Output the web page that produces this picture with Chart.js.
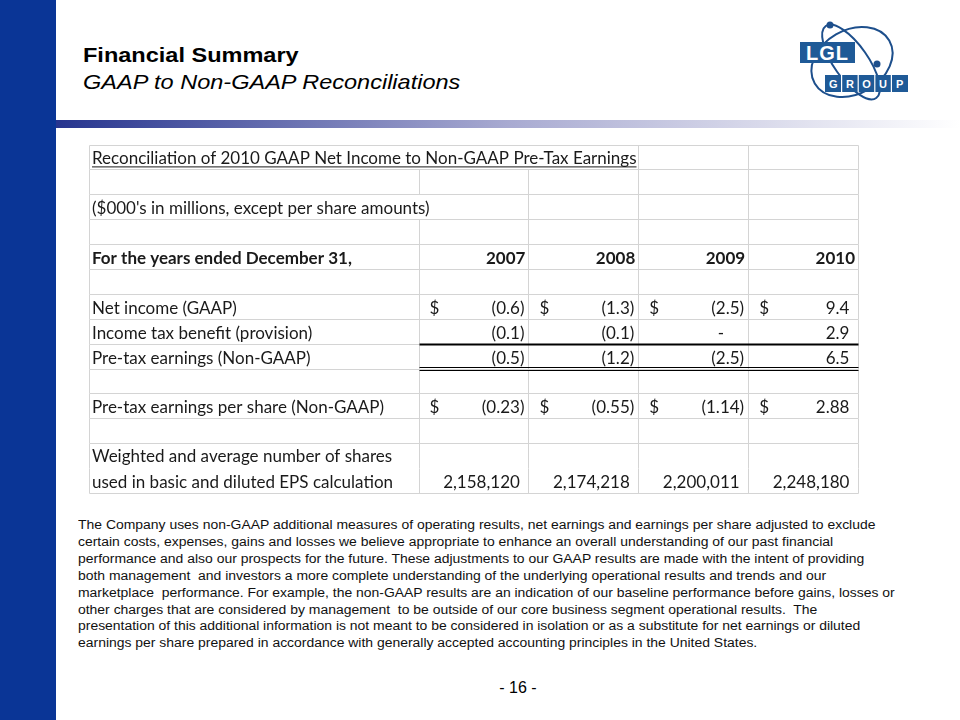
<!DOCTYPE html>
<html>
<head>
<meta charset="utf-8">
<script src="https://cdn.jsdelivr.net/npm/chart.js@4.4.0/dist/chart.umd.min.js"></script>
<style>
  body { margin:0; width:960px; height:720px; position:relative; background:#fff; overflow:hidden;
         font-family:"Liberation Sans", Arial, sans-serif; color:#000; }
  #sidebar { position:absolute; left:0; top:0; width:56px; height:720px; background:#0a3596; }
  #rule { position:absolute; left:56px; top:120px; width:904px; height:8px;
          background:linear-gradient(to right, #27358f 0%, #a8aad1 50%, #ffffff 100%); }
  .head { position:absolute; left:83px; font-size:21px; white-space:nowrap; transform:scaleX(1.12); transform-origin:left top; }
  #t1 { top:43px; font-weight:bold; }
  #t2 { top:70px; font-style:italic; }
  #logo { position:absolute; left:780px; top:14px; }
  #note { position:absolute; left:78px; top:517px; font-size:12.3px; line-height:16.9px; white-space:nowrap; color:#111;
          transform:scaleX(1.133); transform-origin:left top; }
  #page { position:absolute; left:0; width:1036px; text-align:center; top:679px; font-size:16px; }
  #tbl { position:absolute; left:80px; top:136px; }
</style>
</head>
<body>
<div id="sidebar"></div>
<div id="rule"></div>
<div class="head" id="t1">Financial Summary</div>
<div class="head" id="t2">GAAP to Non-GAAP Reconciliations</div>

<svg id="logo" width="140" height="100" viewBox="780 14 140 100">
  <g fill="none" stroke="#1d4f8c" stroke-width="2">
    <ellipse cx="852" cy="62" rx="43" ry="32" transform="rotate(-30 852 62)"/>
    <ellipse cx="851" cy="62" rx="44" ry="17" transform="rotate(55 851 62)"/>
  </g>
  <circle cx="830" cy="25" r="3.5" fill="#1d4f8c"/>
  <circle cx="877" cy="64" r="3.5" fill="#1d4f8c"/>
  <rect x="800" y="42" width="55" height="21" fill="#1f5a97"/>
  <text x="827.5" y="60" fill="#fff" font-family="Liberation Sans, Arial" font-weight="bold" font-size="20" text-anchor="middle" letter-spacing="1">LGL</text>
  <rect x="825" y="75" width="83" height="17" fill="#1f5a97"/>
  <g stroke="#fff" stroke-width="1.2">
    <line x1="841.6" y1="75" x2="841.6" y2="92"/><line x1="858.2" y1="75" x2="858.2" y2="92"/>
    <line x1="874.8" y1="75" x2="874.8" y2="92"/><line x1="891.4" y1="75" x2="891.4" y2="92"/>
  </g>
  <g fill="#fff" font-family="Liberation Sans, Arial" font-weight="bold" font-size="11" text-anchor="middle">
    <text x="833.3" y="87.5">G</text><text x="849.9" y="87.5">R</text><text x="866.5" y="87.5">O</text>
    <text x="883.1" y="87.5">U</text><text x="899.7" y="87.5">P</text>
  </g>
</svg>

<canvas id="tbl" width="800" height="370"></canvas>

<div id="note">The Company uses non-GAAP additional measures of operating results, net earnings and earnings per share adjusted to exclude<br>certain costs, expenses, gains and losses we believe appropriate to enhance an overall understanding of our past financial<br>performance and also our prospects for the future. These adjustments to our GAAP results are made with the intent of providing<br>both management&nbsp; and investors a more complete understanding of the underlying operational results and trends and our<br>marketplace&nbsp; performance. For example, the non-GAAP results are an indication of our baseline performance before gains, losses or<br>other charges that are considered by management&nbsp; to be outside of our core business segment operational results.&nbsp; The<br>presentation of this additional information is not meant to be considered in isolation or as a substitute for net earnings or diluted<br>earnings per share prepared in accordance with generally accepted accounting principles in the United States.</div>
<div id="page">- 16 -</div>

<script>
// table data
var tableTitle = 'Reconciliation of 2010 GAAP Net Income to Non-GAAP Pre-Tax Earnings';
var unitsNote = "($000's in millions, except per share amounts)";
var headerLabel = 'For the years ended December 31,';
var years = ['2007', '2008', '2009', '2010'];
var netIncome = [-0.6, -1.3, -2.5, 9.4];
var taxBenefit = [-0.1, -0.1, 0, 2.9];
var preTaxEarnings = [-0.5, -1.2, -2.5, 6.5];
var preTaxEps = [-0.23, -0.55, -1.14, 2.88];
var avgShares = [2158120, 2174218, 2200011, 2248180];
var sharesLabel = ['Weighted and average number of shares', 'used in basic and diluted EPS calculation'];

// x units: label column is 0..3, then one unit per year; y units: one per sheet row
var colEdges = [0, 3, 4, 5, 6, 7];
var FONT = '"Lato", "Liberation Sans", sans-serif';
var SIZE = 17;

function fmt(v, dec) {
  if (v === 0) return '-';
  var s = Math.abs(v).toFixed(dec);
  return v < 0 ? '(' + s + ')' : s;
}

var tablePlugin = {
  id: 'sheet',
  afterDraw: function(chart) {
    var ctx = chart.ctx;
    var xs = chart.scales.x, ys = chart.scales.y;
    var X = function(v) { return Math.round(xs.getPixelForValue(v)) + 0.5; };
    var Y = function(v) { return Math.round(ys.getPixelForValue(v)) + 0.5; };
    var left = X(0), right = X(7);

    ctx.save();
    // horizontal grid
    ctx.strokeStyle = '#d4d4d4';
    ctx.lineWidth = 1;
    for (var r = 0; r <= 14; r++) {
      if (r === 13) continue;
      ctx.beginPath(); ctx.moveTo(left, Y(r)); ctx.lineTo(right, Y(r)); ctx.stroke();
    }
    // vertical grid, skipping cells that text runs over
    for (var r = 0; r < 14; r++) {
      for (var c = 0; c < colEdges.length; c++) {
        var e = colEdges[c];
        if (r === 0 && (e === 3 || e === 4)) continue;
        if (r === 2 && e === 3) continue;
        ctx.beginPath(); ctx.moveTo(X(e), Y(r)); ctx.lineTo(X(e), Y(r + 1)); ctx.stroke();
      }
    }
    // accounting rules under tax row and pre-tax row
    ctx.strokeStyle = '#000';
    ctx.lineWidth = 2;
    ctx.beginPath(); ctx.moveTo(X(3), Y(8)); ctx.lineTo(right, Y(8)); ctx.stroke();
    ctx.lineWidth = 1;
    ctx.beginPath(); ctx.moveTo(X(3), Y(9) - 2); ctx.lineTo(right, Y(9) - 2); ctx.stroke();
    ctx.beginPath(); ctx.moveTo(X(3), Y(9) + 1); ctx.lineTo(right, Y(9) + 1); ctx.stroke();

    // text
    ctx.fillStyle = '#1a1a1a';
    ctx.textBaseline = 'alphabetic';
    var base = function(row) { return ys.getPixelForValue(row + 1) - 5; };
    var lx = xs.getPixelForValue(0) + 3;
    ctx.font = SIZE + 'px ' + FONT;
    ctx.textAlign = 'left';
    ctx.fillText(tableTitle, lx, base(0));
    var tw = ctx.measureText(tableTitle).width;
    ctx.fillRect(lx, base(0) + 2, tw, 1);
    ctx.fillText(unitsNote, lx, base(2));

    ctx.font = 'bold ' + SIZE + 'px ' + FONT;
    ctx.fillText(headerLabel, lx, base(4));
    ctx.textAlign = 'right';
    years.forEach(function(y, i) {
      ctx.fillText(y, xs.getPixelForValue(4 + i) - 3, base(4));
    });

    ctx.font = SIZE + 'px ' + FONT;
    var paren = ctx.measureText(')').width;
    var rows = [
      { row: 6, label: 'Net income (GAAP)', vals: netIncome, dec: 1, dollar: true },
      { row: 7, label: 'Income tax benefit (provision)', vals: taxBenefit, dec: 1 },
      { row: 8, label: 'Pre-tax earnings (Non-GAAP)', vals: preTaxEarnings, dec: 1 },
      { row: 10, label: 'Pre-tax earnings per share (Non-GAAP)', vals: preTaxEps, dec: 2, dollar: true }
    ];
    rows.forEach(function(d) {
      ctx.textAlign = 'left';
      ctx.fillText(d.label, lx, base(d.row));
      d.vals.forEach(function(v, i) {
        var cl = xs.getPixelForValue(3 + i), cr = xs.getPixelForValue(4 + i);
        if (d.dollar) { ctx.textAlign = 'left'; ctx.fillText('$', cl + 11, base(d.row)); }
        ctx.textAlign = 'right';
        var rx = v < 0 ? cr - 4 : (v === 0 ? cr - 24 : cr - 4 - paren);
        ctx.fillText(fmt(v, d.dec), rx, base(d.row));
      });
    });

    ctx.textAlign = 'left';
    ctx.fillText(sharesLabel[0], lx, base(12) - 1);
    ctx.fillText(sharesLabel[1], lx, base(13));
    ctx.textAlign = 'right';
    avgShares.forEach(function(v, i) {
      ctx.fillText(v.toLocaleString('en-US'), xs.getPixelForValue(4 + i) - 4 - paren, base(13));
    });
    ctx.restore();
  }
};

new Chart(document.getElementById('tbl'), {
  type: 'scatter',
  data: { datasets: [] },
  options: {
    responsive: false,
    animation: false,
    layout: { padding: { left: 9, right: 22, top: 8.5, bottom: 13 } },
    plugins: { legend: { display: false }, tooltip: { enabled: false } },
    scales: {
      x: { type: 'linear', min: 0, max: 7, display: false },
      y: { type: 'linear', min: 0, max: 14, reverse: true, display: false }
    }
  },
  plugins: [tablePlugin]
});
</script>
</body>
</html>
